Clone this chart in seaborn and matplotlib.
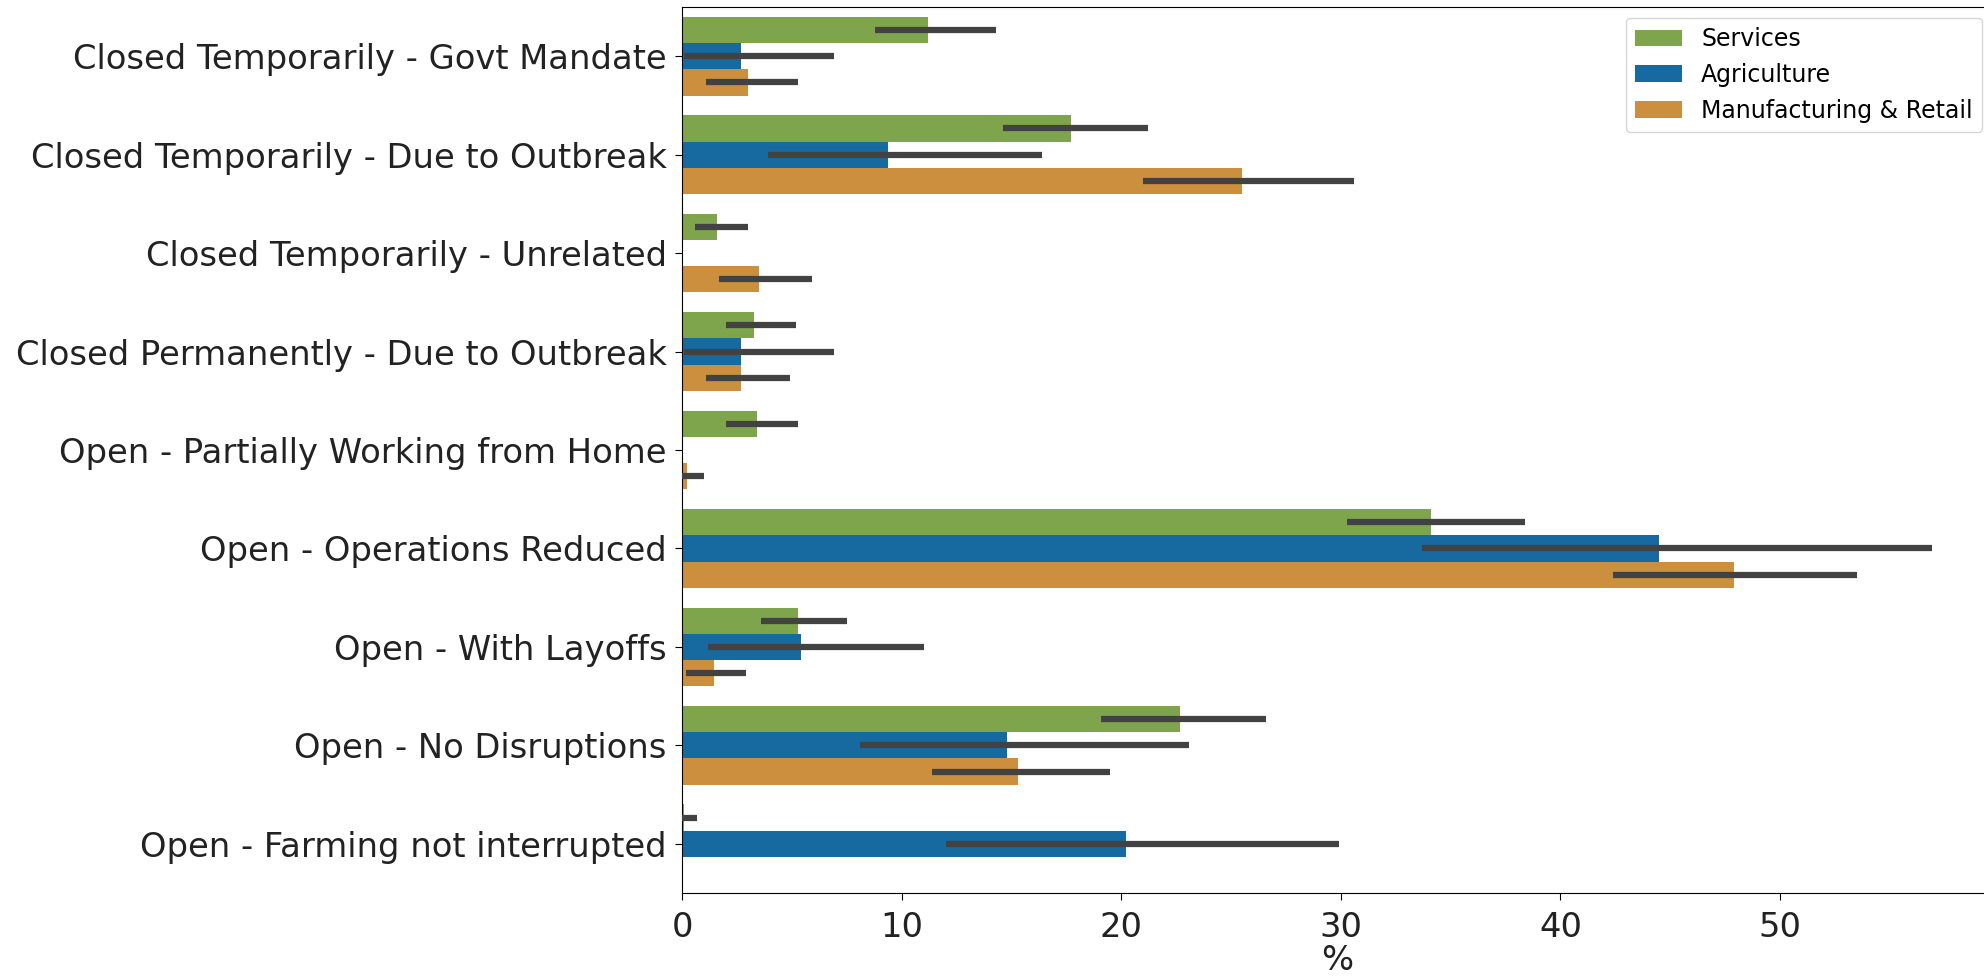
import matplotlib
matplotlib.use("Agg")
import matplotlib.pyplot as plt
import seaborn as sns
import pandas as pd

categories = [
    "Closed Temporarily - Govt Mandate",
    "Closed Temporarily - Due to Outbreak",
    "Closed Temporarily - Unrelated",
    "Closed Permanently - Due to Outbreak",
    "Open - Partially Working from Home",
    "Open - Operations Reduced",
    "Open - With Layoffs",
    "Open - No Disruptions",
    "Open - Farming not interrupted",
]
sectors = ["Services", "Agriculture", "Manufacturing & Retail"]

services = [11.2, 17.7, 1.6, 3.3, 3.4, 34.1, 5.3, 22.7, 0.1]
services_lo = [8.8, 14.6, 0.6, 2.0, 2.0, 30.3, 3.6, 19.1, 0.0]
services_hi = [14.3, 21.2, 3.0, 5.2, 5.3, 38.4, 7.5, 26.6, 0.7]

agriculture = [2.7, 9.4, 0.0, 2.7, 0.0, 44.5, 5.4, 14.8, 20.2]
agriculture_lo = [0.1, 3.9, 0.0, 0.1, 0.0, 33.7, 1.2, 8.1, 12.0]
agriculture_hi = [6.9, 16.4, 0.0, 6.9, 0.0, 56.9, 11.0, 23.1, 29.9]

manufacturing = [3.0, 25.5, 3.5, 2.7, 0.25, 47.9, 1.45, 15.3, 0.0]
manufacturing_lo = [1.1, 21.0, 1.7, 1.1, 0.0, 42.4, 0.2, 11.4, 0.0]
manufacturing_hi = [5.3, 30.6, 5.9, 4.9, 1.0, 53.5, 2.9, 19.5, 0.0]

colors = ["#7ea54b", "#166aa0", "#cc8f3d"]

values = [services, agriculture, manufacturing]
lows = [services_lo, agriculture_lo, manufacturing_lo]
highs = [services_hi, agriculture_hi, manufacturing_hi]

rows = []
for s, vals in zip(sectors, values):
    for c, v in zip(categories, vals):
        rows.append({"category": c, "sector": s, "value": v})
df = pd.DataFrame(rows)

fig = plt.figure(figsize=(19.84, 9.8), dpi=100)
ax = fig.add_axes([682 / 1984, 1 - 893 / 980, (1993 - 682) / 1984, (893 - 7) / 980])

sns.barplot(data=df, x="value", y="category", hue="sector", order=categories,
            hue_order=sectors, palette=colors, saturation=1, errorbar=None,
            orient="h", ax=ax)

for cont, lo, hi in zip(ax.containers, lows, highs):
    for bar, l, h in zip(cont, lo, hi):
        if h - l <= 0:
            continue
        y = bar.get_y() + bar.get_height() / 2
        ax.plot([l, h], [y, y], color="#424242", lw=4.5, solid_capstyle="butt", zorder=3)

ax.set_xlim(0, 59.7)
ax.set_ylim(8.5, -0.5)
ax.set_ylabel("")
ax.set_xlabel("%", fontsize=24.3, color="#222222", labelpad=0)
ax.tick_params(axis="y", labelsize=24.3, length=5, pad=6, labelcolor="#222222")
ax.tick_params(axis="x", labelsize=24.3, length=5, pad=8, labelcolor="#222222")
ax.set_xticks([0, 10, 20, 30, 40, 50])

leg = ax.legend(loc="upper right", fontsize=17, frameon=True, borderaxespad=0.45)

fig.savefig("out.png", dpi=100)
